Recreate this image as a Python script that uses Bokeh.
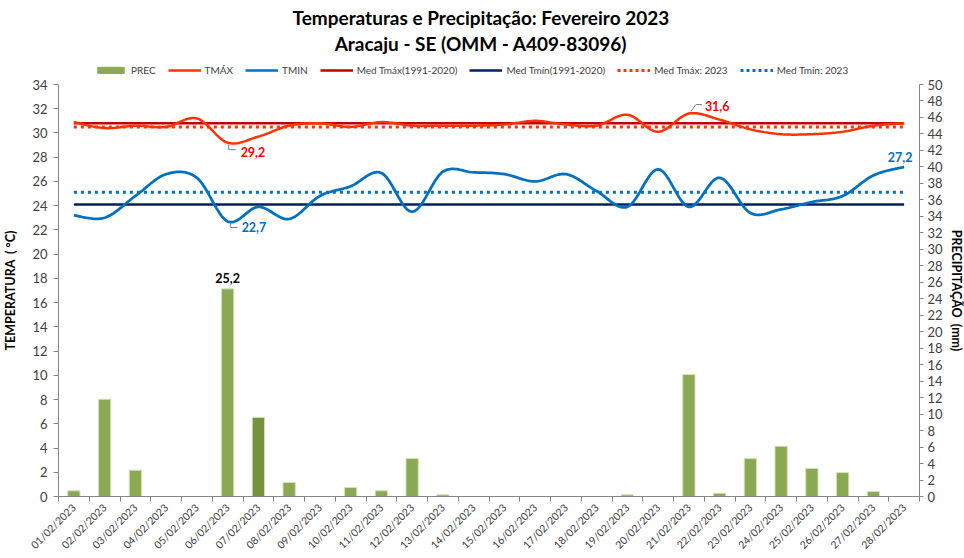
import numpy as np
from bokeh.plotting import figure
from bokeh.layouts import column
from bokeh.models import (Range1d, LinearAxis, FixedTicker,
                          Legend, LegendItem, Label, ColumnDataSource)
from bokeh.embed import file_html
from bokeh.resources import INLINE

# ---------------- data ----------------
dates = ["01/02/2023", "02/02/2023", "03/02/2023", "04/02/2023", "05/02/2023",
         "06/02/2023", "07/02/2023", "08/02/2023", "09/02/2023", "10/02/2023",
         "11/02/2023", "12/02/2023", "13/02/2023", "14/02/2023", "15/02/2023",
         "16/02/2023", "17/02/2023", "18/02/2023", "19/02/2023", "20/02/2023",
         "21/02/2023", "22/02/2023", "23/02/2023", "24/02/2023", "25/02/2023",
         "26/02/2023", "27/02/2023", "28/02/2023"]
prec = [0.7, 11.8, 3.2, 0.0, 0.0, 25.2, 9.6, 1.7, 0.0, 1.1, 0.7, 4.6, 0.2, 0.0,
        0.0, 0.0, 0.0, 0.0, 0.2, 0.0, 14.8, 0.4, 4.6, 6.1, 3.4, 2.9, 0.6, 0.0]
tmax = [30.9, 30.4, 30.6, 30.5, 31.2, 29.2, 29.7, 30.6, 30.8, 30.5, 30.9, 30.6,
        30.6, 30.6, 30.7, 31.0, 30.7, 30.6, 31.5, 30.1, 31.6, 31.1, 30.3, 29.9,
        29.9, 30.1, 30.6, 30.8]
tmin = [23.2, 23.0, 24.8, 26.6, 26.3, 22.7, 23.9, 22.9, 24.8, 25.6, 26.7, 23.5,
        26.8, 26.75, 26.6, 26.0, 26.6, 25.2, 23.9, 27.0, 23.9, 26.3, 23.4, 23.7,
        24.3, 24.8, 26.5, 27.2]
med_tmax_hist = 30.8
med_tmin_hist = 24.1
med_tmax_2023 = 30.5
med_tmin_2023 = 25.1

temp_ticks = list(range(0, 35, 2))
prec_ticks = list(range(0, 51, 2))

title1 = "Temperaturas e Precipitação: Fevereiro 2023"
title2 = "Aracaju - SE (OMM - A409-83096)"

FONT = "Lato"
TXT = "#404040"
AX = "#868686"
W, HEAD = 948, 77
FW, FH = 861, 412

C_PREC, C_PREC2, C_PREC_LINE = "#8BA852", "#76923C", "#D5E2BC"
C_TMAX, C_TMIN = "#FF3300", "#0070C0"
C_MXH, C_MNH = "#C00000", "#002060"

days = list(range(1, len(dates) + 1))


def smooth(xs, ys, n=20):
    """Catmull-Rom (Excel-like) smoothing of a series for drawing."""
    pts = np.column_stack([xs, ys]).astype(float)
    outx, outy = [], []
    m = len(pts)
    for i in range(m - 1):
        p0 = pts[i - 1] if i > 0 else pts[i]
        p1 = pts[i]
        p2 = pts[i + 1]
        p3 = pts[i + 2] if i + 2 < m else pts[i + 1]
        c1 = p1 + (p2 - p0) / 6.0
        c2 = p2 - (p3 - p1) / 6.0
        t = np.linspace(0, 1, n, endpoint=(i == m - 2))
        b = (((1 - t) ** 3)[:, None] * p1 + (3 * (1 - t) ** 2 * t)[:, None] * c1
             + (3 * (1 - t) * t ** 2)[:, None] * c2 + (t ** 3)[:, None] * p2)
        outx.extend(b[:, 0])
        outy.extend(b[:, 1])
    return outx, outy


# ================= header (titles + legend) =================
h = figure(width=W, height=HEAD, output_backend="svg", toolbar_location=None,
           x_range=Range1d(0, W), y_range=Range1d(0, HEAD),
           min_border=0, outline_line_color=None)
h.axis.visible = False
h.grid.visible = False
h.add_layout(Label(x=W / 2 + 1, y=HEAD - 17, text=title1, text_align="center",
                   text_baseline="middle", text_font=FONT, text_font_size="19px",
                   text_font_style="bold", text_color="#000000"))
h.add_layout(Label(x=W / 2 + 1, y=HEAD - 43, text=title2, text_align="center",
                   text_baseline="middle", text_font=FONT, text_font_size="19px",
                   text_font_style="bold", text_color="#000000"))

# legend sample renderers: placed outside the header's visible range
off = [-50, -40]
lg_prec = h.vbar(x=off, top=[-30, -30], bottom=[-40, -40], width=1,
                 fill_color=C_PREC, line_color=C_PREC)
lg_tmax = h.line(x=off, y=off, line_color=C_TMAX, line_width=2.5)
lg_tmin = h.line(x=off, y=off, line_color=C_TMIN, line_width=2.5)
lg_mxh = h.line(x=off, y=off, line_color=C_MXH, line_width=2.5)
lg_mnh = h.line(x=off, y=off, line_color=C_MNH, line_width=2.5)
lg_mx23 = h.line(x=off, y=off, line_color=C_TMAX, line_width=3, line_dash="3 3")
lg_mn23 = h.line(x=off, y=off, line_color=C_TMIN, line_width=3, line_dash="3 3")
legend = Legend(items=[
    LegendItem(label="PREC", renderers=[lg_prec]),
    LegendItem(label="TMÁX", renderers=[lg_tmax]),
    LegendItem(label="TMIN", renderers=[lg_tmin]),
    LegendItem(label="Med Tmáx(1991-2020)", renderers=[lg_mxh]),
    LegendItem(label="Med Tmín(1991-2020)", renderers=[lg_mnh]),
    LegendItem(label="Med Tmáx: 2023", renderers=[lg_mx23]),
    LegendItem(label="Med Tmín: 2023", renderers=[lg_mn23]),
], orientation="horizontal", location=(36, 1), glyph_width=33, glyph_height=8,
    label_standoff=4, spacing=12, padding=2, margin=0, border_line_color=None,
    background_fill_alpha=0, label_text_font=FONT, label_text_font_size="10px",
    label_text_color=TXT, label_height=10)
h.add_layout(legend)

# ================= main chart =================
p = figure(frame_width=FW, frame_height=FH, output_backend="svg", toolbar_location=None,
           x_range=Range1d(0.5, len(dates) + 0.5), y_range=Range1d(0, 34),
           min_border_left=53, min_border_right=38, min_border_top=7,
           min_border_bottom=50, outline_line_color=None)
p.extra_y_ranges = {"prec": Range1d(0, 50)}
p.xgrid.visible = False
p.ygrid.visible = False

# bars
bar_colors = [C_PREC] * len(prec)
bar_colors[6] = C_PREC2
src = ColumnDataSource(dict(x=days, top=prec, color=bar_colors))
p.vbar(x="x", top="top", width=0.4, fill_color="color", line_color=C_PREC_LINE,
       line_width=1, source=src, y_range_name="prec")

# reference lines
p.line([days[0], days[-1]], [med_tmax_hist] * 2, line_color=C_MXH, line_width=2.5)
p.line([days[0], days[-1]], [med_tmin_hist] * 2, line_color=C_MNH, line_width=2.5)
p.line([days[0], days[-1]], [med_tmax_2023] * 2, line_color=C_TMAX, line_width=3, line_dash="3 4")
p.line([days[0], days[-1]], [med_tmin_2023] * 2, line_color=C_TMIN, line_width=3, line_dash="3 4")

# smoothed series
sx, sy = smooth(days, tmax)
p.line(sx, sy, line_color=C_TMAX, line_width=2.5)
sx, sy = smooth(days, tmin)
p.line(sx, sy, line_color=C_TMIN, line_width=2.75)

# axes
p.xaxis.ticker = FixedTicker(ticks=days, minor_ticks=[d - 0.5 for d in days] + [days[-1] + 0.5])
p.xaxis.major_label_overrides = {d: lab for d, lab in zip(days, dates)}
p.xaxis.major_label_orientation = np.pi / 4
p.xaxis.major_tick_out = 0
p.xaxis.major_tick_in = 0
p.xaxis.minor_tick_out = 5
p.xaxis.minor_tick_in = 0
p.xaxis.minor_tick_line_color = AX
p.xaxis.axis_line_color = AX
p.xaxis.major_label_text_font = FONT
p.xaxis.major_label_text_font_size = "10.5px"
p.xaxis.major_label_text_color = TXT
p.xaxis.major_label_standoff = 4

p.yaxis.ticker = FixedTicker(ticks=temp_ticks)
p.yaxis.axis_label = "TEMPERATURA\u00a0\u00a0( °C)"
p.yaxis.axis_label_text_font = FONT
p.yaxis.axis_label_text_font_style = "bold"
p.yaxis.axis_label_text_font_size = "12.5px"
p.yaxis.axis_label_text_color = "#000000"
p.yaxis.axis_label_standoff = 11
p.yaxis.major_label_text_font = FONT
p.yaxis.major_label_text_font_size = "13px"
p.yaxis.major_label_text_color = TXT
p.yaxis.major_label_standoff = 6
p.yaxis.major_tick_out = 5
p.yaxis.major_tick_in = 0
p.yaxis.minor_tick_out = 0
p.yaxis.minor_tick_in = 0
p.yaxis.axis_line_color = AX
p.yaxis.major_tick_line_color = AX

ax2 = LinearAxis(y_range_name="prec", ticker=FixedTicker(ticks=prec_ticks),
                 axis_label="PRECIPITAÇÃO\u00a0\u00a0(mm)")
ax2.axis_label_text_font = FONT
ax2.axis_label_text_font_style = "bold"
ax2.axis_label_text_font_size = "12.5px"
ax2.axis_label_text_color = "#000000"
ax2.axis_label_standoff = 3
ax2.major_label_text_font = FONT
ax2.major_label_text_font_size = "13px"
ax2.major_label_text_color = TXT
ax2.major_label_standoff = 4
ax2.major_tick_out = 4
ax2.major_tick_in = 0
ax2.minor_tick_out = 0
ax2.minor_tick_in = 0
ax2.axis_line_color = AX
ax2.major_tick_line_color = AX
p.add_layout(ax2, "right")

# data labels
XPX = 28.0 / FW   # data units per px (x)
YPX = 34.0 / FH   # data units per px (y)


def label(x, y, txt, color, dx, dy, align="left"):
    p.add_layout(Label(x=x, y=y, text=txt, x_offset=dx, y_offset=dy, text_color=color,
                       text_font=FONT, text_font_style="bold", text_font_size="12.5px",
                       text_align=align, text_baseline="middle"))


i6 = 5
label(days[i6], tmax[i6], "29,2", "#FF0000", 13, -9)
p.line([days[i6] + 1 * XPX, days[i6] + 1 * XPX, days[i6] + 8 * XPX],
       [tmax[i6] - 2 * YPX, tmax[i6] - 7 * YPX, tmax[i6] - 7 * YPX], line_color="#7F7F7F", line_width=1)
label(days[i6], tmin[i6], "22,7", "#0070C0", 14, -6)
p.line([days[i6] + 3 * XPX, days[i6] + 3 * XPX, days[i6] + 10 * XPX],
       [tmin[i6] - 1 * YPX, tmin[i6] - 6 * YPX, tmin[i6] - 6 * YPX], line_color="#7F7F7F", line_width=1)
i21 = 20
label(days[i21], tmax[i21], "31,6", "#FF0000", 16, 8)
p.line([days[i21] + 2 * XPX, days[i21] + 7 * XPX, days[i21] + 13 * XPX],
       [tmax[i21] + 2 * YPX, tmax[i21] + 9 * YPX, tmax[i21] + 9 * YPX], line_color="#7F7F7F", line_width=1)
label(days[-1], tmin[-1], "27,2", "#0070C0", -4, 10, "center")
label(days[i6], prec[i6] * 34.0 / 50.0, "25,2", "#000000", 0, 11, "center")

open("out.html", "w").write(file_html(column(h, p, spacing=0), INLINE))
